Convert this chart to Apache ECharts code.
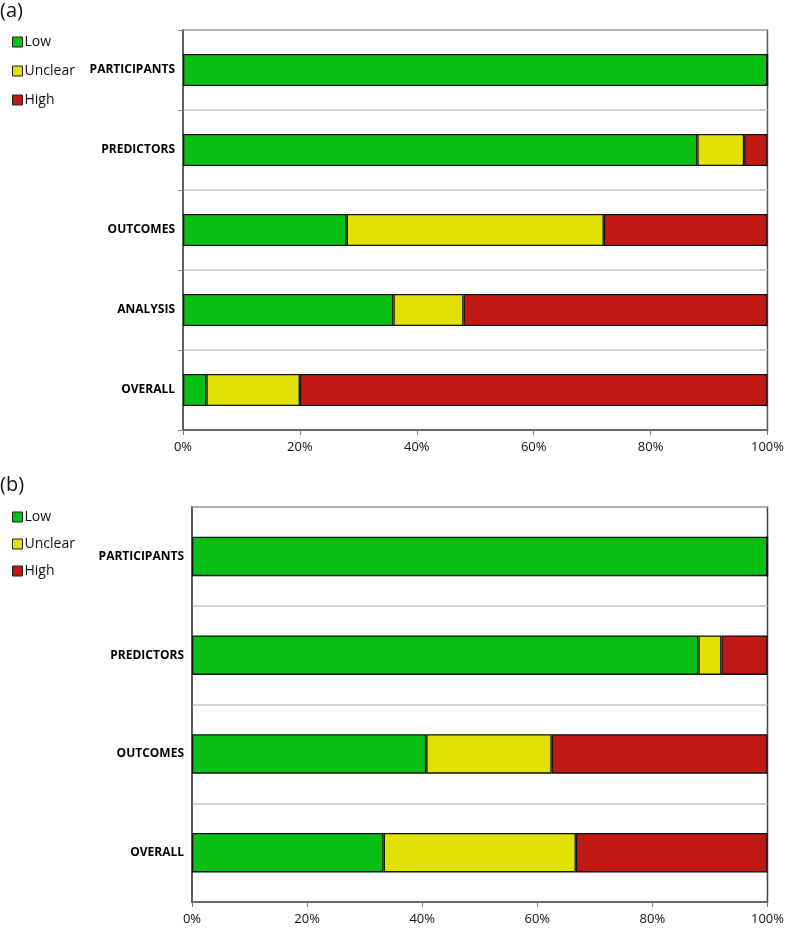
<!DOCTYPE html>
<html>
<head>
<meta charset="utf-8">
<script src="https://cdn.jsdelivr.net/npm/echarts@6/dist/echarts.min.js"></script>
<style>html,body{margin:0;padding:0;background:#fff;overflow:hidden;}#c{width:787px;height:928px;}</style>
</head>
<body>
<div id="c"></div>
<script>
var catsA = ['PARTICIPANTS', 'PREDICTORS', 'OUTCOMES', 'ANALYSIS', 'OVERALL'];
var lowA = [100, 88, 28, 36, 4];
var unclearA = [0, 8, 44, 12, 16];
var highA = [0, 4, 28, 52, 80];

var catsB = ['PARTICIPANTS', 'PREDICTORS', 'OUTCOMES', 'OVERALL'];
var lowB = [100, 88, 40.7, 33.3];
var unclearB = [0, 4, 21.8, 33.4];
var highB = [0, 8, 37.5, 33.3];

var xTicks = ['0%', '20%', '40%', '60%', '80%', '100%'];

var colors = { Low: '#08c014', Unclear: '#e1e106', High: '#c01813' };
var FONT = '"Open Sans", "Liberation Sans", sans-serif';

function mkSeries(name, data, idx) {
  return {
    name: name, type: 'bar', stack: 'p' + idx, data: data,
    xAxisIndex: idx, yAxisIndex: idx, barWidth: '40%',
    itemStyle: { color: colors[name], borderColor: '#111', borderWidth: 1.3 },
    emphasis: { disabled: true }
  };
}

function xAxisCfg(idx) {
  return {
    gridIndex: idx, type: 'value', min: 0, max: 100, interval: 20,
    axisLine: { show: true, lineStyle: { color: '#555', width: 1.5 } },
    axisTick: { show: true, length: 5, lineStyle: { color: '#777' } },
    splitLine: { show: false },
    axisLabel: { color: '#111', fontSize: 13, fontFamily: FONT, margin: 11,
      formatter: function (v) { return xTicks[Math.round(v / 20)]; } }
  };
}

function yAxisCfg(idx, cats, ticks) {
  return {
    gridIndex: idx, type: 'category', data: cats, inverse: true,
    axisLine: { show: true, lineStyle: { color: '#555', width: 1.5 } },
    axisTick: { show: ticks, length: 5, lineStyle: { color: '#888' } },
    splitLine: { show: true, lineStyle: { color: '#c4c4c4', width: 1.5 } },
    axisLabel: { color: '#000', fontSize: 12, fontWeight: 'bold', fontFamily: FONT, margin: 8 }
  };
}

function legendCfg(top, gap) {
  return {
    orient: 'vertical', left: 7, top: top, itemGap: gap,
    icon: 'rect', itemWidth: 10, itemHeight: 10,
    data: ['Low', 'Unclear', 'High'],
    itemStyle: { borderColor: '#222', borderWidth: 1 },
    textStyle: { color: '#111', fontSize: 14, fontFamily: FONT, padding: [0, 0, 0, -3] },
    selectedMode: false
  };
}

var chart = echarts.init(document.getElementById('c'), null, { renderer: 'canvas', width: 787, height: 928 });
chart.setOption({
  animation: false,
  backgroundColor: '#fff',
  title: [
    { text: '(a)', left: 0, top: 1, padding: 0, textStyle: { fontSize: 20, fontWeight: 'normal', color: '#111', fontFamily: FONT } },
    { text: '(b)', left: 0, top: 475, padding: 0, textStyle: { fontSize: 20, fontWeight: 'normal', color: '#111', fontFamily: FONT } }
  ],
  legend: [legendCfg(30, 15), legendCfg(505, 13)],
  grid: [
    { left: 183, right: 15, top: 30, height: 400, show: true, borderColor: '#555', borderWidth: 1.5, backgroundColor: 'transparent' },
    { left: 192, right: 18, top: 507, height: 395, show: true, borderColor: '#444', borderWidth: 1.5, backgroundColor: 'transparent' }
  ],
  xAxis: [xAxisCfg(0), xAxisCfg(1)],
  yAxis: [yAxisCfg(0, catsA, true), yAxisCfg(1, catsB, false)],
  series: [
    mkSeries('Low', lowA, 0), mkSeries('Unclear', unclearA, 0), mkSeries('High', highA, 0),
    mkSeries('Low', lowB, 1), mkSeries('Unclear', unclearB, 1), mkSeries('High', highB, 1)
  ]
});
</script>
</body>
</html>
